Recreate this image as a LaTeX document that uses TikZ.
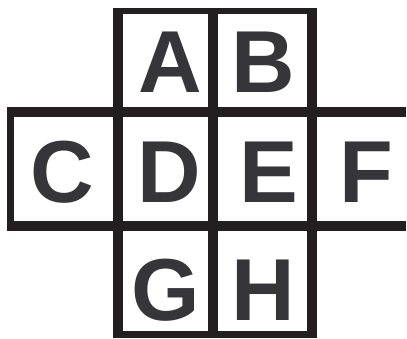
\documentclass[tikz,border=0pt]{standalone}
\usepackage{fontspec}
\setmainfont{Liberation Sans}
\definecolor{linecol}{HTML}{231F20}
\definecolor{lettercol}{HTML}{36363A}
\begin{document}
\begin{tikzpicture}[x=1pt,y=-1pt,
  bar/.style={fill=linecol,draw=none},
  letter/.style={anchor=base,inner sep=0pt,text=lettercol,font=\fontsize{88}{88}\selectfont\bfseries}]
\useasboundingbox (0,0) rectangle (407,338);
% horizontal bars
\path[bar] (113.3,8.3) rectangle (316.7,14.2);
\path[bar] (6.7,106.7) rectangle (406,116.7);
\path[bar] (6.7,221) rectangle (406,231);
\path[bar] (113.3,330.7) rectangle (316.7,338);
% vertical bars, top row
\path[bar] (113.3,8.3) rectangle (122.7,116.7);
\path[bar] (208.3,8.3) rectangle (217.7,116.7);
\path[bar] (306.7,8.3) rectangle (316.7,116.7);
% vertical bars, middle row
\path[bar] (6.7,106.7) rectangle (14,231);
\path[bar] (113.3,106.7) rectangle (122.7,231);
\path[bar] (208.3,106.7) rectangle (217.7,231);
\path[bar] (306.7,106.7) rectangle (316.7,231);
% vertical bars, bottom row
\path[bar] (113.3,221) rectangle (122.7,338);
\path[bar] (208.3,221) rectangle (217.7,338);
\path[bar] (306.7,221) rectangle (316.7,338);
% letters
\node[letter] (A) at (170,92.7) {A};
\node[letter] (B) at (263.7,92.7) {B};
\node[letter] (C) at (62,202.7) {C};
\node[letter] (D) at (169,202.7) {D};
\node[letter] (E) at (269,202.7) {E};
\node[letter] (F) at (366,202.7) {F};
\node[letter] (G) at (166,320) {G};
\node[letter] (H) at (263,320) {H};
\end{tikzpicture}
\end{document}
